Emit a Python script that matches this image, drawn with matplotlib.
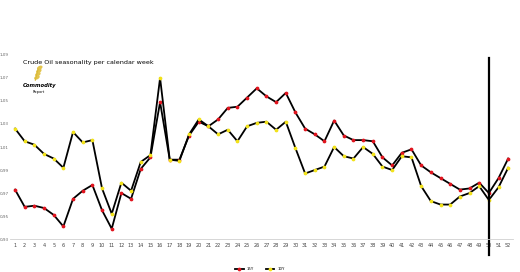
import numpy as np
import matplotlib.pyplot as plt
from matplotlib.patches import Ellipse

# weekly seasonality index
weeks = np.arange(1, 53)
red_vals = [0.973, 0.958, 0.959, 0.957, 0.951, 0.941, 0.965, 0.972, 0.977, 0.955,
            0.939, 0.970, 0.965, 0.991, 1.001, 1.049, 0.999, 0.999, 1.020, 1.032,
            1.028, 1.034, 1.044, 1.045, 1.053, 1.061, 1.054, 1.049, 1.057, 1.040,
            1.026, 1.021, 1.015, 1.033, 1.020, 1.016, 1.016, 1.015, 1.001, 0.994,
            1.005, 1.008, 0.994, 0.988, 0.983, 0.978, 0.973, 0.974, 0.979, 0.970,
            0.983, 1.000]
yellow_vals = [1.026, 1.015, 1.012, 1.004, 1.000, 0.992, 1.023, 1.014, 1.016, 0.974,
               0.952, 0.979, 0.972, 0.997, 1.003, 1.070, 0.999, 0.998, 1.021, 1.034,
               1.028, 1.021, 1.025, 1.015, 1.028, 1.031, 1.032, 1.025, 1.032, 1.009,
               0.987, 0.990, 0.993, 1.010, 1.002, 1.000, 1.010, 1.004, 0.993, 0.990,
               1.002, 1.001, 0.976, 0.963, 0.960, 0.960, 0.967, 0.970, 0.976, 0.964,
               0.975, 0.992]
labels = ["15Y", "10Y"]
yticks = [0.93, 0.95, 0.97, 0.99, 1.01, 1.03, 1.05, 1.07, 1.09]
current_week = 50

plt.rcParams['font.family'] = ['Liberation Sans Narrow', 'DejaVu Sans']

fig = plt.figure(figsize=(5.2, 2.72), dpi=100)
ax = fig.add_axes([0.0196, 0.121, 0.967, 0.677])

ax.plot(weeks, red_vals, color='black', lw=1.3, marker='o', ms=1.7,
        mfc='#e0141e', mec='#e0141e', label=labels[0])
ax.plot(weeks, yellow_vals, color='black', lw=1.3, marker='o', ms=1.7,
        mfc='#f2e21a', mec='#f2e21a', label=labels[1])

ax.axvline(current_week, ymin=-0.087, ymax=0.984, color='black', lw=1.6, clip_on=False)

ax.set_xlim(0.5, 52.5)
ax.set_ylim(0.93, 1.09)
ax.set_xticks(weeks)
ax.set_xticklabels([str(w) for w in weeks], fontsize=3.6, color='#444444')
ax.set_yticks(yticks)
ax.set_yticklabels([f"{t:.2f}".replace('.', ',') for t in yticks], fontsize=3, color='#666666')
ax.tick_params(axis='both', length=0, pad=3)
ax.tick_params(axis='y', pad=1)
for s in ['top', 'right', 'left']:
    ax.spines[s].set_visible(False)
ax.spines['bottom'].set_color('#d0d0d0')
ax.spines['bottom'].set_linewidth(0.6)

fig.text(0.044, 0.77, "Crude Oil seasonality per calendar week", fontsize=4.6, color='black',
         va='center', ha='left')

# little logo
fig.text(0.044, 0.685, "Commodity", fontsize=3.8, fontweight='bold', style='italic',
         va='center', ha='left')
fig.text(0.062, 0.662, "Report", fontsize=2.6, va='center', ha='left')
fig.add_artist(plt.Line2D([0.068, 0.073], [0.705, 0.745], color='#d9b93a', lw=0.8))
for i in range(4):
    fig.add_artist(Ellipse((0.071 + i * 0.0018, 0.715 + i * 0.012), 0.006, 0.012,
                           angle=-30, color='#e3c44a'))

fig.legend(loc='lower center', bbox_to_anchor=(0.5, -0.01), ncol=2, fontsize=2.8,
           frameon=False, handlelength=2.2, columnspacing=3, markerscale=1)

fig.savefig('out.png', dpi=100)
